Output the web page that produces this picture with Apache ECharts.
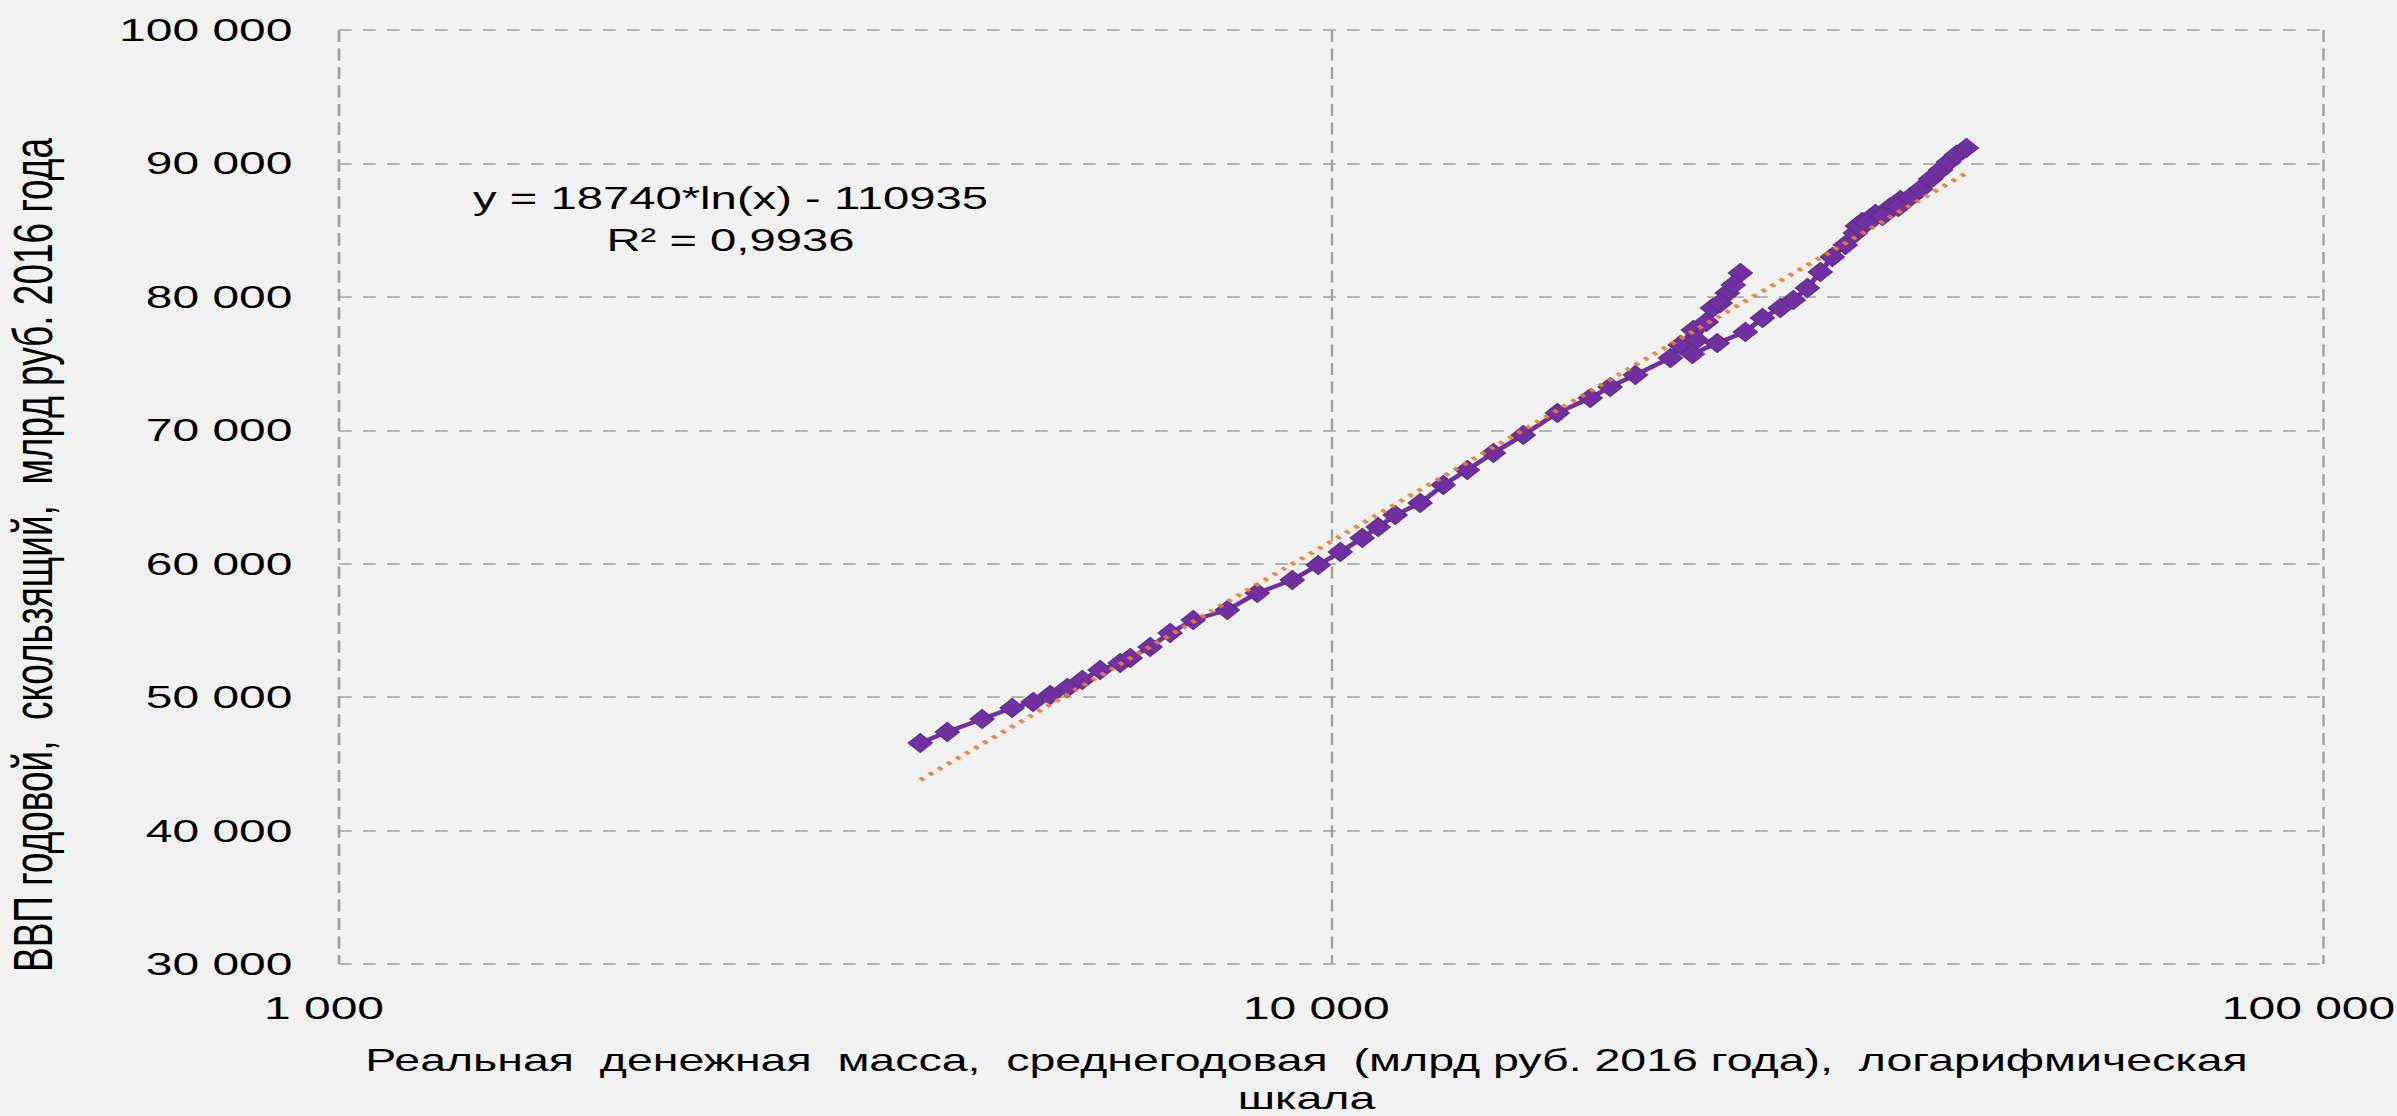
<!DOCTYPE html>
<html>
<head>
<meta charset="utf-8">
<script src="https://cdn.jsdelivr.net/npm/echarts@6/dist/echarts.min.js"></script>
<style>
  html, body { margin: 0; padding: 0; background: #f2f2f2; overflow: hidden; }
  #wrap { width: 2397px; height: 1116px; overflow: hidden; }
  #chart { width: 1598px; height: 1116px; transform: scaleX(1.5); transform-origin: 0 0; }
</style>
</head>
<body>
<div id="wrap"><div id="chart"></div></div>
<script>
// Real money supply, annual average (bn rub. of 2016) — x values, in time order
const moneyReal = [
  3853, 4102, 4448, 4768, 5007, 5208, 5418, 5611, 5848, 6128,
  6272, 6569, 6880, 7260, 7858, 8423, 9135, 9703, 10212, 10745,
  11152, 11600, 12291, 12970, 13713, 14568, 15616, 16898, 18243, 19105,
  20254, 21970, 22480, 23170, 24220, 25070, 25840, 25420, 24660, 23880,
  23330, 23120, 24490, 26140, 27200, 28350, 29220, 30190, 31110, 31990,
  32970, 33750, 34300, 35350, 36600, 37460, 36430, 35110, 33900, 34620,
  35930, 37290, 38350, 39260, 40180, 41120, 41880, 42660, 43660
];
// GDP, rolling annual (bn rub. of 2016) — y values, same order
const gdpRolling = [
  46560, 47390, 48360, 49190, 49640, 50160, 50690, 51290, 52040, 52560,
  52940, 53760, 54810, 55780, 56530, 57810, 58780, 59900, 60880, 61930,
  62750, 63650, 64550, 65900, 67030, 68300, 69650, 71300, 72420, 73250,
  74150, 75420, 76390, 77520, 79170, 80290, 81790, 80890, 79540, 78120,
  76770, 75720, 76540, 77370, 78420, 79170, 79770, 80670, 81870, 82990,
  83890, 84790, 85610, 86210, 86740, 87260, 86440, 85840, 85310, 85540,
  86060, 86740, 87490, 88090, 88840, 89510, 90110, 90640, 91160
];

const xTickValues = [1000, 10000, 100000];
const xTickLabels = ['1 000', '10 000', '100 000'];
const yTickValues = [30000, 40000, 50000, 60000, 70000, 80000, 90000, 100000];
const yTickLabels = ['30 000', '40 000', '50 000', '60 000', '70 000', '80 000', '90 000', '100 000'];

// logarithmic trendline as printed on the chart
const trendCoefA = 18740;
const trendCoefB = -110935;
const trendLabelLines = ['y = 18740*ln(x) - 110935', 'R² = 0,9936'];

const xAxisTitle = 'Реальная  денежная  масса,  среднегодовая  (млрд руб. 2016 года),  логарифмическая\nшкала';
const yAxisTitle = 'ВВП годовой,  скользящий,  млрд руб. 2016 года';

const FONT = '"Liberation Sans", Arial, sans-serif';

const seriesData = moneyReal.map((x, i) => [x, gdpRolling[i]]);
const xMin = Math.min(...moneyReal);
const xMax = Math.max(...moneyReal);
const trendData = [xMin, xMax].map(x => [x, trendCoefA * Math.log(x) + trendCoefB]);

const chart = echarts.init(document.getElementById('chart'), null, { renderer: 'svg' });
chart.setOption({
  animation: false,
  backgroundColor: '#f2f2f2',
  grid: { left: 226, right: 49, top: 30, bottom: 152, containLabel: false, outerBoundsMode: 'none' },
  xAxis: {
    type: 'log',
    logBase: 10,
    min: 1000,
    max: 100000,
    axisLine: { show: false },
    axisTick: { show: false },
    minorTick: { show: false },
    splitLine: { show: true, lineStyle: { color: '#a0a0a0', width: 1.6, type: [12, 6.5] } },
    axisLabel: {
      margin: 28,
      fontSize: 32,
      fontFamily: FONT,
      color: '#000',
      padding: [0, 20, 0, 0],
      formatter: v => {
        const i = xTickValues.indexOf(Math.round(v));
        return i >= 0 ? xTickLabels[i] : '';
      }
    },
    name: xAxisTitle,
    nameLocation: 'middle',
    nameGap: 77,
    nameTextStyle: {
      fontSize: 31,
      fontFamily: FONT,
      color: '#000',
      lineHeight: 38,
      align: 'center',
      padding: [0, 33, 0, 0]
    }
  },
  yAxis: {
    type: 'value',
    min: 30000,
    max: 100000,
    interval: 10000,
    axisLine: { show: false },
    axisTick: { show: false },
    splitLine: { show: true, lineStyle: { color: '#a0a0a0', width: 1.6, type: [8.5, 7.5] } },
    axisLabel: {
      margin: 31,
      fontSize: 32,
      fontFamily: FONT,
      color: '#000',
      formatter: v => {
        const i = yTickValues.indexOf(Math.round(v));
        return i >= 0 ? yTickLabels[i] : '';
      }
    },
    name: yAxisTitle,
    nameLocation: 'middle',
    nameGap: 186,
    nameRotate: 90,
    nameTextStyle: {
      fontSize: 37,
      fontFamily: FONT,
      color: '#000',
      padding: [0, 116, 0, 0]
    }
  },
  series: [
    {
      type: 'line',
      data: seriesData,
      symbol: 'diamond',
      symbolSize: [16, 19],
      showSymbol: true,
      lineStyle: { color: '#7030a0', width: 4 },
      itemStyle: { color: '#7030a0', borderColor: '#5e2f8c', borderWidth: 1 },
      z: 2
    },
    {
      type: 'line',
      data: trendData,
      symbol: 'none',
      lineStyle: { color: '#ed7d31', width: 4, type: [3, 5], opacity: 0.9 },
      z: 3
    }
  ],
  graphic: [
    {
      type: 'text',
      x: 487,
      y: 177,
      style: {
        text: trendLabelLines.join('\n'),
        fontSize: 31.5,
        fontFamily: FONT,
        fill: '#000',
        align: 'center',
        textAlign: 'center',
        verticalAlign: 'top',
        textVerticalAlign: 'top',
        lineHeight: 42
      }
    }
  ]
});
</script>
</body>
</html>
